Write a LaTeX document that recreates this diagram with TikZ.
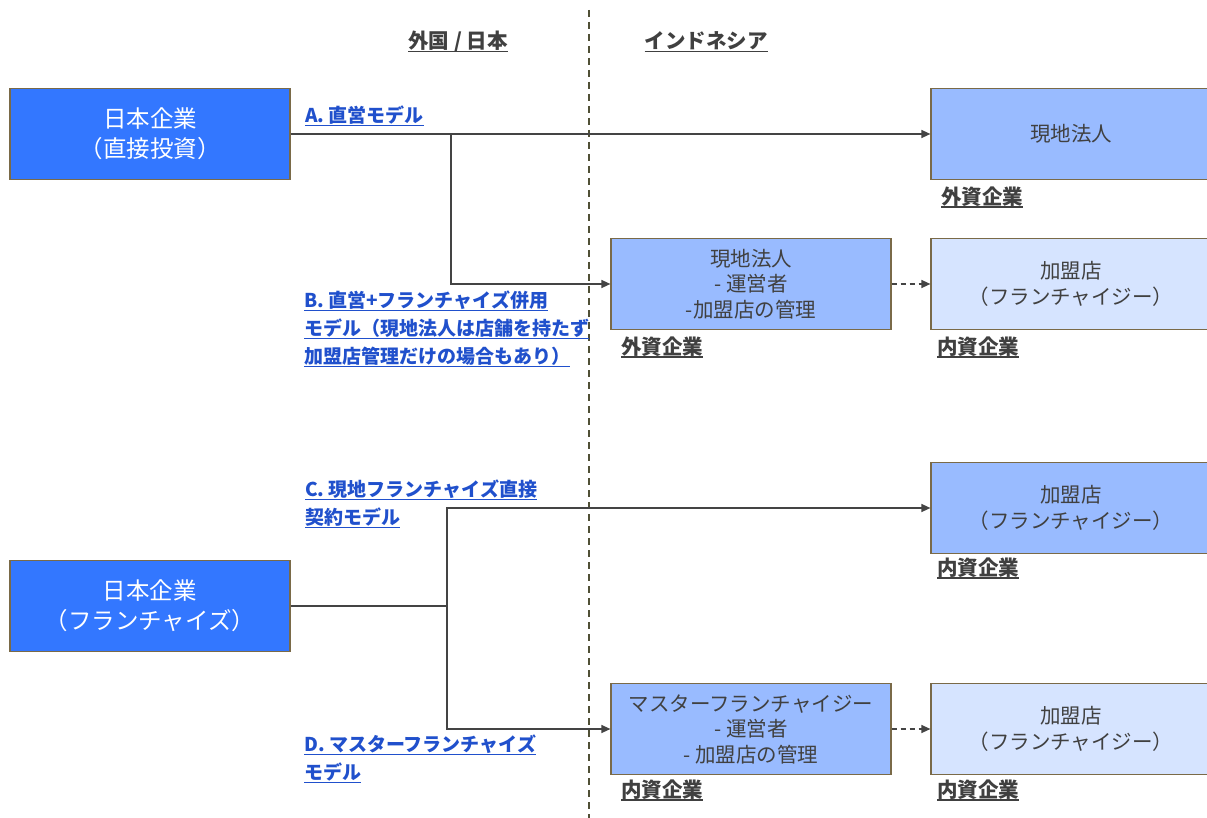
\documentclass[tikz,border=0pt]{standalone}
\usepackage{fontspec}
\setmainfont{Noto Sans CJK JP}
\usetikzlibrary{arrows.meta}
\definecolor{bigblue}{HTML}{3377FF}
\definecolor{midblue}{HTML}{99BBFF}
\definecolor{lightblue}{HTML}{D6E4FF}
\definecolor{boxborder}{HTML}{7A6A48}
\definecolor{linkblue}{HTML}{2050CC}
\definecolor{darktext}{HTML}{404040}
\definecolor{linecol}{HTML}{444444}
\newcommand\ulx[1]{\setbox0\hbox{#1}\rlap{\rule[-3.5pt]{\wd0}{1.5pt}}\box0}
\begin{document}
\begin{tikzpicture}[x=1pt,y=-1pt,
  basebox/.style={draw=boxborder,line width=1.2pt,minimum width=280pt,minimum height=91pt,align=center,inner sep=0pt},
  bigbox/.style={basebox,fill=bigblue,text=white,font=\fontsize{23.5}{30}\selectfont},
  midbox/.style={basebox,fill=midblue,text=darktext,font=\fontsize{20.5}{25.5}\selectfont},
  lightbox/.style={basebox,fill=lightblue,text=darktext,font=\fontsize{20.5}{25.5}\selectfont},
  modellabel/.style={text=linkblue,font=\bfseries\fontsize{19}{28}\selectfont,align=left,anchor=north west,inner sep=0pt},
  capital/.style={text=darktext,font=\bfseries\fontsize{20.5}{22}\selectfont,anchor=west,inner sep=0pt},
  header/.style={text=darktext,font=\bfseries\fontsize{20.5}{22}\selectfont,inner sep=0pt},
  conn/.style={draw=linecol,line width=1.3pt,-{Triangle[length=9pt,width=8pt]}},
  plainline/.style={draw=linecol,line width=1.3pt},
  dconn/.style={conn,dash pattern=on 5pt off 4pt}
]
\useasboundingbox (0,0) rectangle (1207,818);
\fill[white] (0,0) rectangle (1207,818);

% divider
\coordinate (divtop) at (589,10);
\coordinate (divbot) at (589,818);
\draw[draw=linecol!80!olive,line width=1.3pt,dash pattern=on 7pt off 5pt] (divtop) -- (divbot);

% headers
\node[header] (h1) at (458,42) {\ulx{外国 / 日本}};
\node[header] (h2) at (706,42) {\ulx{インドネシア}};

% boxes
\node[bigbox] (jd) at (150,134) {日本企業\\（直接投資）};
\node[midbox] (a1) at (1071,134) {現地法人};
\node[midbox] (b1) at (751,284) {現地法人\\- 運営者\\-加盟店の管理};
\node[lightbox] (b2) at (1071,284) {加盟店\\（フランチャイジー）};
\node[bigbox] (jf) at (150,606) {日本企業\\（フランチャイズ）};
\node[midbox] (c1) at (1071,508) {加盟店\\（フランチャイジー）};
\node[midbox] (d1) at (751,729) {マスターフランチャイジー\\- 運営者\\- 加盟店の管理};
\node[lightbox] (d2) at (1071,729) {加盟店\\（フランチャイジー）};

% capital labels
\node[capital] (ka1) at (941,197) {\ulx{外資企業}};
\node[capital] (kb1) at (621,347) {\ulx{外資企業}};
\node[capital] (kb2) at (937,347) {\ulx{内資企業}};
\node[capital] (kc1) at (937,568) {\ulx{内資企業}};
\node[capital] (kd1) at (621,790) {\ulx{内資企業}};
\node[capital] (kd2) at (937,790) {\ulx{内資企業}};

% model labels
\node[modellabel] (la) at (305,106) {\ulx{A. 直営モデル}};
\node[modellabel] (lb) at (304,291) {\ulx{B. 直営+フランチャイズ併用}\\\ulx{モデル（現地法人は店舗を持たず}\\\ulx{加盟店管理だけの場合もあり）}};
\node[modellabel] (lc) at (305,480) {\ulx{C. 現地フランチャイズ直接}\\\ulx{契約モデル}};
\node[modellabel] (ld) at (304,735) {\ulx{D. マスターフランチャイズ}\\\ulx{モデル}};

% connectors
\coordinate (ja) at (451,134);
\draw[conn] (jd.east) -- (a1.west);
\draw[conn] (ja) |- (b1.west);
\draw[dconn] (b1.east) -- (b2.west);
\coordinate (jc) at (447,606);
\draw[plainline] (jf.east) -- (jc);
\draw[conn] (jc) |- (c1.west);
\draw[conn] (jc) |- (d1.west);
\draw[dconn] (d1.east) -- (d2.west);
\end{tikzpicture}
\end{document}
